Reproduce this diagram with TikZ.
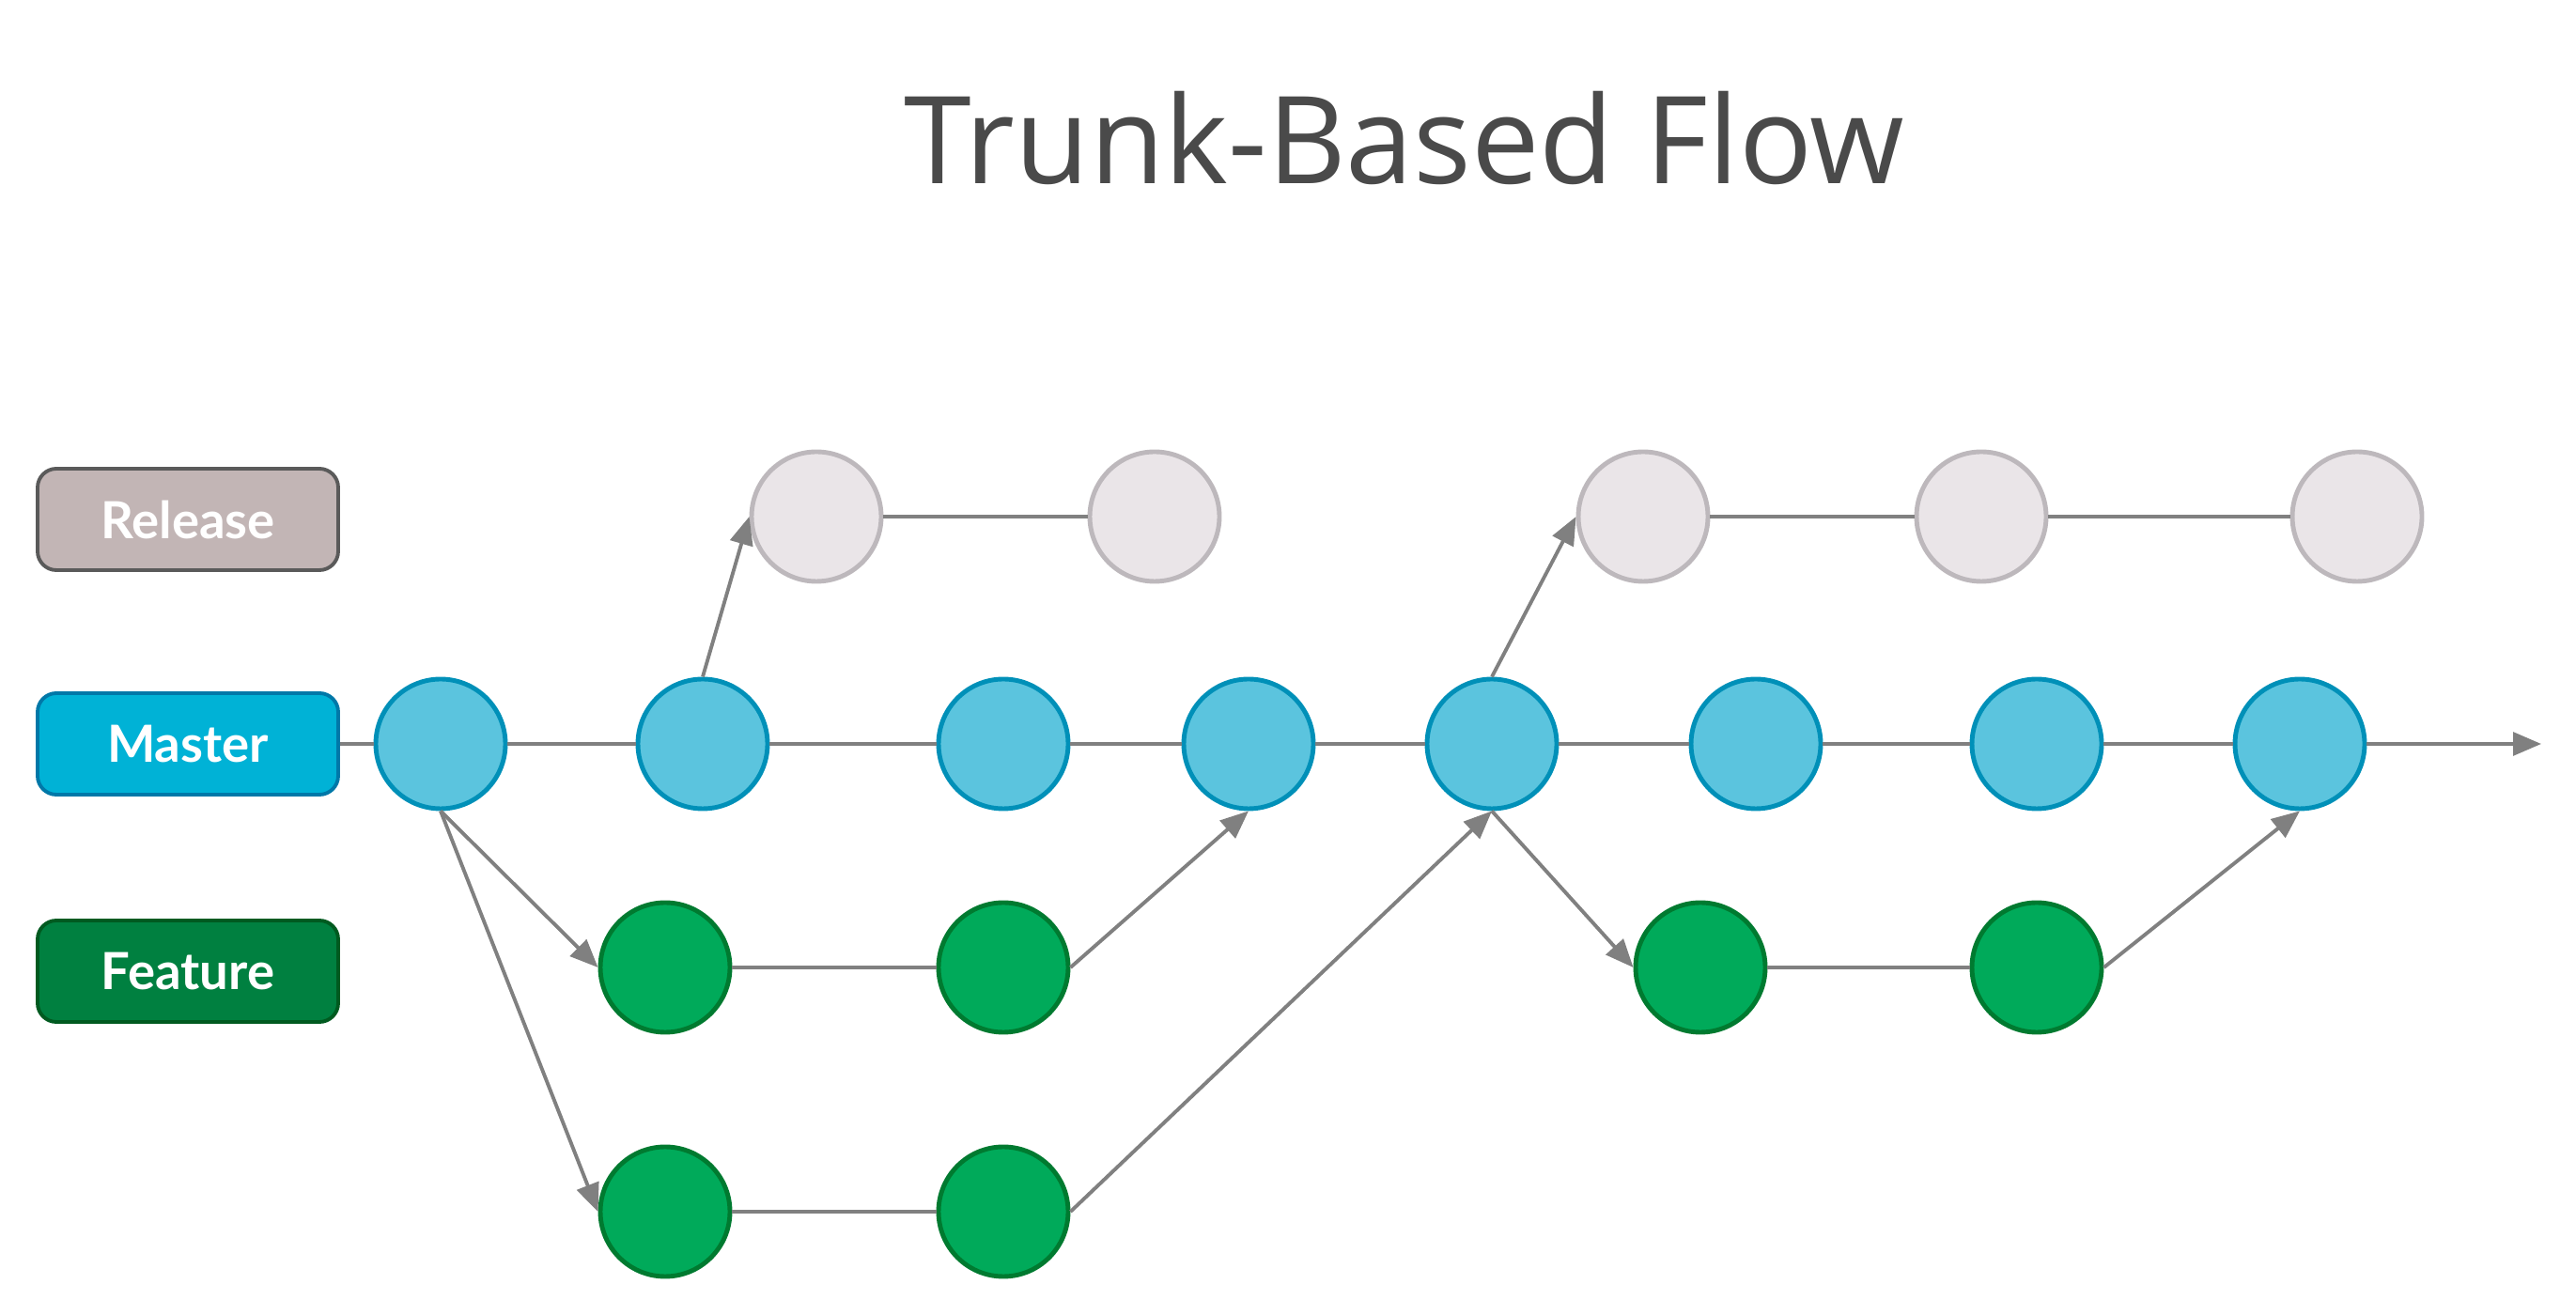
\documentclass[tikz,border=0pt]{standalone}
\usepackage{fontspec}
\setmainfont{Open Sans}
\newfontfamily\labelfont{Lato}
\usepackage{tikz}
\usetikzlibrary{arrows.meta,positioning}
\definecolor{titlegray}{RGB}{74,74,74}
\definecolor{linegray}{RGB}{128,128,128}
\definecolor{relfill}{RGB}{194,181,181}
\definecolor{reldraw}{RGB}{90,90,90}
\definecolor{masfill}{RGB}{0,178,214}
\definecolor{masdraw}{RGB}{0,120,168}
\definecolor{feafill}{RGB}{0,128,64}
\definecolor{feadraw}{RGB}{0,90,32}
\definecolor{relcirc}{RGB}{234,229,232}
\definecolor{relcircdraw}{RGB}{189,184,188}
\definecolor{mascirc}{RGB}{91,196,222}
\definecolor{mascircdraw}{RGB}{0,144,184}
\definecolor{feacirc}{RGB}{0,170,90}
\definecolor{feacircdraw}{RGB}{0,122,48}

\begin{document}
\begin{tikzpicture}[
  branchbox/.style={rounded corners=0.2cm, line width=1.1pt, minimum width=3.2cm,
    minimum height=1.08cm, inner sep=0pt, text=white, font=\labelfont\bfseries\fontsize{15.5}{18}\selectfont},
  commit/.style={circle, line width=1.4pt, minimum size=1.38cm, inner sep=0pt},
  relcommit/.style={commit, fill=relcirc, draw=relcircdraw},
  mascommit/.style={commit, fill=mascirc, draw=mascircdraw},
  feacommit/.style={commit, fill=feacirc, draw=feacircdraw},
  flow/.style={draw=linegray, line width=1.1pt},
  merge/.style={flow, -{Triangle[length=8.5pt,width=7pt]}}
]
\useasboundingbox (0,0) rectangle (27.42,14);

% title
\node[anchor=base, text=titlegray, font=\fontsize{36.8}{40}\selectfont] (title) at (14.95,12.04) {Trunk-Based Flow};

% branch labels
\node[branchbox, fill=relfill, draw=reldraw] (release) at (2.0,8.47) {Release};
\node[branchbox, fill=masfill, draw=masdraw] (master) at (2.0,6.08) {Master};
\node[branchbox, fill=feafill, draw=feadraw] (feature) at (2.0,3.66) {Feature};

% commits
\foreach \i/\x in {1/8.69,2/12.29,3/17.49,4/21.09,5/25.09}
  \node[relcommit] (r\i) at (\x,8.50) {};
\foreach \i/\x in {1/4.69,2/7.48,3/10.68,4/13.29,5/15.88,6/18.69,7/21.68,8/24.48}
  \node[mascommit] (m\i) at (\x,6.08) {};
\node[feacommit] (fa1) at (7.08,3.70) {};
\node[feacommit] (fa2) at (10.68,3.70) {};
\node[feacommit] (fb1) at (7.08,1.10) {};
\node[feacommit] (fb2) at (10.68,1.10) {};
\node[feacommit] (fc1) at (18.10,3.70) {};
\node[feacommit] (fc2) at (21.68,3.70) {};
\coordinate (trunkend) at (27.05,6.08);

% trunk
\draw[flow] (master.east) -- (m1.west);
\foreach \a/\b in {1/2,2/3,3/4,4/5,5/6,6/7,7/8}
  \draw[flow] (m\a.east) -- (m\b.west);
\draw[merge] (m8.east) -- (trunkend);

% release lines
\draw[flow] (r1) -- (r2);
\draw[flow] (r3) -- (r4);
\draw[flow] (r4) -- (r5);
\draw[merge] (m2.north) -- (r1.west);
\draw[merge] (m5.north) -- (r3.west);

% feature branches
\draw[flow] (fa1) -- (fa2);
\draw[flow] (fb1) -- (fb2);
\draw[flow] (fc1) -- (fc2);
\draw[merge] (m1.south) -- (fa1.west);
\draw[merge] (m1.south) -- (fb1.west);
\draw[merge] (fa2.east) -- (m4.south);
\draw[merge] (fb2.east) -- (m5.south);
\draw[merge] (m5.south) -- (fc1.west);
\draw[merge] (fc2.east) -- (m8.south);
\end{tikzpicture}
\end{document}
